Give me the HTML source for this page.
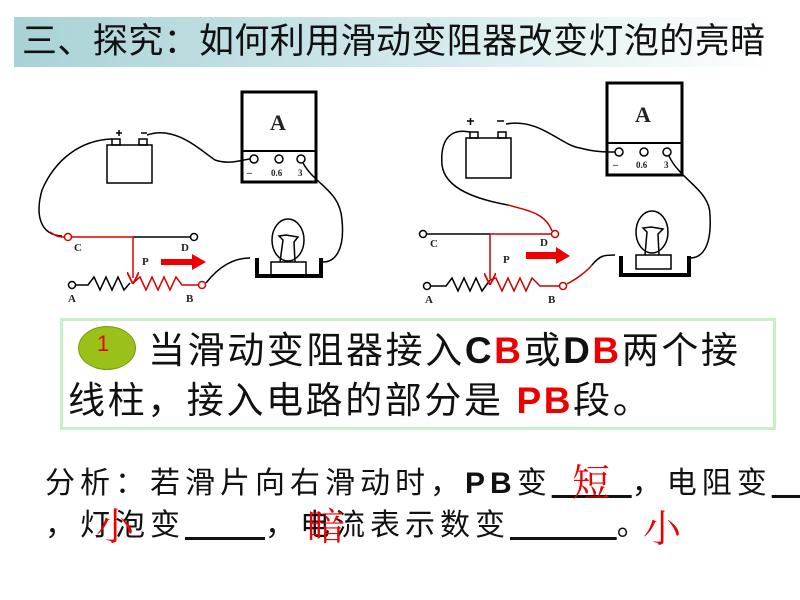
<!DOCTYPE html>
<html><head><meta charset="utf-8"><style>
body{margin:0;width:800px;height:600px;background:#fff;overflow:hidden;position:relative;font-family:"Liberation Sans","Noto Sans CJK SC",sans-serif}
.t{position:absolute;white-space:nowrap}
</style></head><body>
<div style="position:absolute;left:14px;top:17px;width:760px;height:50px;background:linear-gradient(90deg,#a9d2d6,#d8ecee 60%,#fff)"></div>
<div class="t" style="left:22px;top:19px;font-size:35px;letter-spacing:0.4px;line-height:46px;color:#111">三、探究：如何利用滑动变阻器改变灯泡的亮暗</div>
<svg width="800" height="600" style="position:absolute;left:0;top:0" font-family="Liberation Serif" font-weight="bold">
<defs><marker id="ah" markerWidth="8" markerHeight="8" refX="4" refY="4" orient="auto"><path d="M0,0 L8,4 L0,8" fill="none" stroke="#d00" stroke-width="1.2"/></marker></defs>
<g fill="none" stroke="#000" stroke-width="1.5">
<rect x="107" y="145" width="45" height="38"/>
<rect x="112" y="139" width="8" height="6"/><rect x="139" y="139" width="8" height="6"/>
<path d="M116,133 h6 M119,130 v6 M141,133 h6"/>
<rect x="242" y="92" width="74" height="90" stroke-width="3"/>
<line x1="242" y1="151" x2="316" y2="151" stroke-width="2"/>
<circle cx="254" cy="159" r="4"/><circle cx="279" cy="159" r="4"/><circle cx="301" cy="159" r="4"/>
<path d="M112,139 C80,140 55,160 42,190 C35,215 40,235 62,236"/>
<path d="M147,135 C175,125 200,150 215,160 C230,165 240,160 250,159"/>
<path d="M303,163 C315,185 340,190 342,220 C345,250 335,262 323,262"/>
<path d="M206,283 C220,265 235,258 250,258"/>
<ellipse cx="288" cy="240" rx="16" ry="21"/>
<path d="M280,262 L283,240 L279,236 L286,235 L298,237 L294,242 L295,262"/>
<rect x="271" y="262" width="35" height="13"/>
<path d="M257,258 V276 H321 V258" stroke-width="4"/>
<circle cx="194" cy="237" r="3.5"/>
<line x1="133" y1="237" x2="190" y2="237"/>
<circle cx="72" cy="285" r="3.5"/>
<path d="M75,285 H88 L94,277 L100,290 L106,277 L112,290 L118,277 L124,290 L130,283"/>
</g>
<g fill="none" stroke="#d00" stroke-width="1.5">
<path d="M50,232 C56,236 58,237 64,237"/>
<circle cx="68" cy="237" r="3.5"/>
<line x1="72" y1="237" x2="133" y2="237"/>
<line x1="133" y1="237" x2="133" y2="278" marker-end="url(#ah)"/>
<path d="M133,283 L140,277 L146,290 L152,277 L158,290 L164,277 L170,290 L176,277 L182,285 H198"/>
<circle cx="202" cy="285" r="3.5"/>
</g>
<path d="M161,259 H192 V254 L206,262 L192,270 V265 H161Z" fill="#e00"/>
<g font-size="11" fill="#222">
<text x="74" y="251">C</text><text x="181" y="251">D</text><text x="142" y="265">P</text><text x="68" y="302">A</text><text x="186" y="302">B</text>
<text x="270" y="130" font-size="22">A</text>
<text x="247" y="176" font-size="10">–</text><text x="271" y="176" font-size="9">0.6</text><text x="298" y="176" font-size="9">3</text>
</g>
<g fill="none" stroke="#000" stroke-width="1.5">
<rect x="466" y="138" width="45" height="40"/>
<rect x="470" y="132" width="8" height="6"/><rect x="498" y="132" width="8" height="6"/>
<path d="M467,121 h7 M470.5,118 v7 M497,121 h7"/>
<rect x="607" y="83" width="75" height="92" stroke-width="3"/>
<line x1="607" y1="143" x2="682" y2="143" stroke-width="2"/>
<circle cx="619" cy="152" r="4"/><circle cx="644" cy="152" r="4"/><circle cx="667" cy="152" r="4"/>
<path d="M470,132 C450,128 440,140 442,165 C445,190 480,200 508,205"/>
<path d="M506,124 C540,118 560,145 580,148 C595,152 605,152 615,152"/>
<path d="M669,156 C680,180 710,190 710,215 C712,250 700,258 690,258"/>
<path d="M592,265 C600,255 605,255 615,255"/>
<ellipse cx="652" cy="232" rx="16" ry="21"/>
<path d="M645,255 L647,232 L643,228 L651,227 L663,229 L658,234 L659,255"/>
<rect x="636" y="255" width="35" height="14"/>
<path d="M621,256 V275 H689 V256" stroke-width="4"/>
<circle cx="423" cy="234" r="3.5"/>
<line x1="427" y1="234" x2="490" y2="234"/>
<circle cx="427" cy="286" r="3.5"/>
<path d="M430,286 H446 L452,278 L458,291 L464,278 L470,291 L476,278 L482,291 L490,280"/>
</g>
<g fill="none" stroke="#c00" stroke-width="1.5">
<path d="M508,205 C525,210 545,212 552,231"/>
<circle cx="555" cy="234" r="3.5"/>
<line x1="490" y1="234" x2="551" y2="234"/>
<line x1="490" y1="234" x2="490" y2="279" marker-end="url(#ah)"/>
<path d="M490,280 L496,278 L502,291 L508,278 L514,291 L520,278 L526,291 L532,278 L540,286 H559"/>
<circle cx="563" cy="286" r="3.5"/>
<path d="M567,284 C578,278 586,272 592,265"/>
</g>
<path d="M526,252 H556 V247 L570,256 L556,264 V259 H526Z" fill="#e00"/>
<g font-size="11" fill="#222">
<text x="430" y="247">C</text><text x="540" y="246">D</text><text x="503" y="263">P</text><text x="425" y="303">A</text><text x="548" y="303">B</text>
<text x="635" y="122" font-size="22">A</text>
<text x="613" y="168" font-size="10">–</text><text x="636" y="168" font-size="9">0.6</text><text x="664" y="168" font-size="9">3</text>
</g>
</svg>
<div style="position:absolute;left:60px;top:318px;width:710px;height:106px;border:3px solid #c8f0c8"></div>
<div style="position:absolute;left:78px;top:326px;width:56px;height:42px;border-radius:50%;background:#99c11a;border:1px solid #7a9a10"></div>
<div class="t" style="left:97px;top:331px;font-size:22px;color:#e00">1</div>
<div class="t" style="left:148px;top:326px;font-size:37px;letter-spacing:2.6px;line-height:50px;color:#111">当滑动变阻器接入<b>C<span style="color:#e00">B</span></b>或<b>D<span style="color:#e00">B</span></b>两个接</div>
<div class="t" style="left:68px;top:376px;font-size:37px;letter-spacing:2.6px;line-height:50px;color:#111">线柱，接入电路的部分是 <b style="color:#e00">PB</b>段。</div>
<div class="t" style="left:45px;top:464px;font-size:30px;letter-spacing:5px;line-height:40px;color:#111">分析：若滑片向右滑动时，<b>PB</b>变<u>&nbsp;&nbsp;&nbsp;&nbsp;&nbsp;&nbsp;</u>，电阻变<u>&nbsp;&nbsp;&nbsp;</u></div>
<div class="t" style="left:45px;top:506px;font-size:30px;letter-spacing:5px;line-height:40px;color:#111">，灯泡变<u>&nbsp;&nbsp;&nbsp;&nbsp;&nbsp;&nbsp;</u>，电流表示数变<u>&nbsp;&nbsp;&nbsp;&nbsp;&nbsp;&nbsp;&nbsp;&nbsp;</u>。</div>
<div class="t" style="left:572px;top:452px;font-size:38px;color:#e00;font-family:'Noto Serif CJK SC',serif">短</div>
<div class="t" style="left:96px;top:496px;font-size:38px;color:#e00;font-family:'Noto Serif CJK SC',serif">小</div>
<div class="t" style="left:307px;top:496px;font-size:38px;color:#e00;font-family:'Noto Serif CJK SC',serif">暗</div>
<div class="t" style="left:643px;top:498px;font-size:38px;color:#e00;font-family:'Noto Serif CJK SC',serif">小</div>
</body></html>
